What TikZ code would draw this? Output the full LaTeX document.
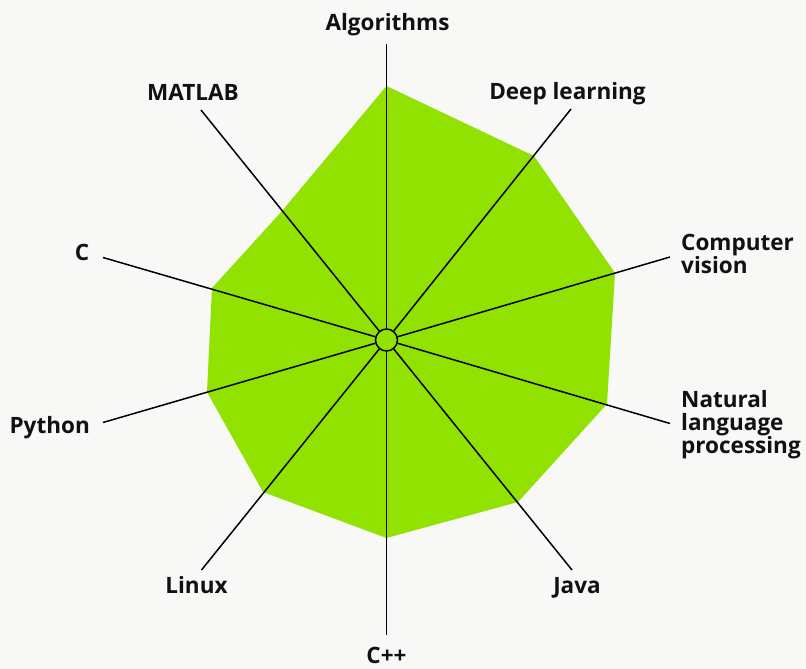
\documentclass[tikz,border=0pt]{standalone}
\usepackage{fontspec}
\setmainfont{Open Sans}
\definecolor{bgc}{RGB}{248,248,246}
\definecolor{areac}{RGB}{145,226,0}
\definecolor{txtc}{RGB}{17,17,17}
\begin{document}
\begin{tikzpicture}[x=1pt,y=-1pt,
  axisline/.style={draw=black,line width=1.5pt},
  lbl/.style={inner sep=0pt,text=txtc,font=\fontsize{22.5}{23}\selectfont\bfseries},
  hubstyle/.style={circle,draw=black,line width=1.5pt,fill=areac,minimum size=22pt,inner sep=0pt}]
\fill[bgc] (0,0) rectangle (806,669);
\useasboundingbox (0,0) rectangle (806,669);
% data area
\fill[areac] (386.5,86) -- (534,156) -- (615,273) -- (607,404) -- (518,502)
  -- (386.5,538) -- (263,492) -- (207,392) -- (212,288) -- (282,211) -- cycle;
% axis ends
\coordinate (eAlg) at (386.5,44);
\coordinate (eDL) at (571,109);
\coordinate (eCV) at (670,257);
\coordinate (eNLP) at (670,423.5);
\coordinate (eJava) at (572,570);
\coordinate (eCpp) at (386.5,635);
\coordinate (eLinux) at (201.5,570);
\coordinate (ePy) at (103,422.5);
\coordinate (eC) at (103,257.5);
\coordinate (eML) at (201,110);
\node[hubstyle] (hub) at (386.5,340) {};
\foreach \e in {eAlg,eDL,eCV,eNLP,eJava,eCpp,eLinux,ePy,eC,eML}
  \draw[axisline] (hub) -- (\e);
% labels
\node[lbl,anchor=base] (lAlg) at (387.5,31) {Algorithms};
\node[lbl,anchor=base] (lDL) at (567.5,99.5) {Deep learning};
\node[lbl,anchor=base] (lML) at (193,100) {MATLAB};
\node[lbl,anchor=north west,align=left] (lCV) at (681,234) {Computer\\vision};
\node[lbl,anchor=north west,align=left] (lNLP) at (681,390) {Natural\\language\\processing};
\node[lbl,anchor=base east] (lC) at (89.5,260.5) {C};
\node[lbl,anchor=base east] (lPy) at (90,433.5) {Python};
\node[lbl,anchor=base] (lLinux) at (196.5,593.5) {Linux};
\node[lbl,anchor=base] (lJava) at (577,593.5) {Java};
\node[lbl,anchor=base] (lCpp) at (386.5,663.5) {C++};
\end{tikzpicture}
\end{document}
